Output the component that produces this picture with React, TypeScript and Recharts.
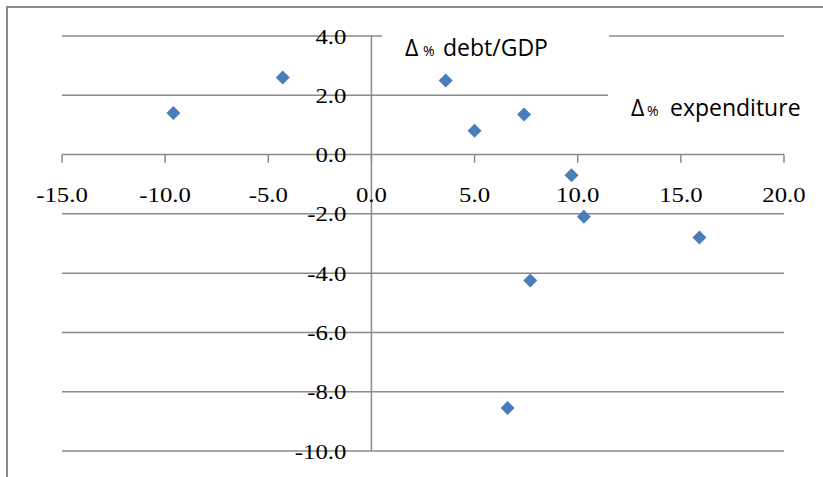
import React from 'react';
import { ScatterChart, Scatter, XAxis, YAxis, ReferenceLine } from 'recharts';

// expenditure change (x) vs debt/GDP change (y)
const expenditure = [-9.6, -4.3, 3.6, 5.0, 7.4, 9.7, 10.3, 7.7, 6.6, 15.9];
const debtGdp = [1.4, 2.6, 2.5, 0.8, 1.35, -0.7, -2.1, -4.25, -8.55, -2.8];

const xTicks = [-15, -10, -5, 0, 5, 10, 15, 20];
const yTicks = [-10, -8, -6, -4, -2, 0, 2, 4];

const points = expenditure.map((x, i) => ({ x, y: debtGdp[i] }));
const xLabelPoints = xTicks.map((x) => ({ x, y: 0 }));
const yLabelPoints = yTicks.map((y) => ({ x: 0, y }));

const GRID = '#8a8a8a';
const BLUE = '#4a7ebb';
const SERIF = 'Liberation Serif, Times New Roman, serif';
const SANS = 'Open Sans, Noto Sans, sans-serif';

const Diamond = (props: any) => {
  const { cx, cy } = props;
  const r = 7;
  return (
    <polygon
      points={`${cx},${cy - r} ${cx + r},${cy} ${cx},${cy + r} ${cx - r},${cy}`}
      fill={BLUE}
    />
  );
};

// tick labels placed at the axis crossing via the scatter scales
const XLabel = (props: any) => {
  const { cx, cy, payload } = props;
  return (
    <text
      transform={`translate(${cx},${cy + 47}) scale(1.18,1)`}
      textAnchor="middle"
      style={{ fontFamily: SERIF, fontSize: 21 }}
      fill="#000"
    >
      {payload.x.toFixed(1)}
    </text>
  );
};

const YLabel = (props: any) => {
  const { cx, cy, payload } = props;
  return (
    <text
      transform={`translate(${cx - 25},${cy + 7.5}) scale(1.18,1)`}
      textAnchor="end"
      style={{ fontFamily: SERIF, fontSize: 21 }}
      fill="#000"
    >
      {payload.y.toFixed(1)}
    </text>
  );
};

export default function App() {
  return (
    <div style={{ position: 'absolute', left: 0, top: 0, width: 823, height: 477, overflow: 'hidden', background: '#fff' }}>
      {/* chart area border, cut by the picture on right/bottom */}
      <div style={{ position: 'absolute', left: 6, top: 6, width: 900, height: 600, border: `2px solid ${GRID}` }} />
      <ScatterChart width={823} height={477} margin={{ top: 36, right: 39, bottom: 26, left: 62 }}>
        <XAxis type="number" dataKey="x" domain={[-15, 20]} hide />
        <YAxis type="number" dataKey="y" domain={[-10, 4]} hide />
        {yTicks.map((v) => (
          <ReferenceLine key={'g' + v} y={v} stroke={GRID} strokeWidth={1.5} />
        ))}
        <ReferenceLine x={0} stroke={GRID} strokeWidth={1.5} />
        {xTicks.map((v) => (
          <ReferenceLine
            key={'t' + v}
            segment={[{ x: v, y: 0 }, { x: v, y: -0.28 }]}
            stroke={GRID}
            strokeWidth={1.5}
          />
        ))}
        <Scatter data={xLabelPoints} shape={<XLabel />} isAnimationActive={false} />
        <Scatter data={yLabelPoints} shape={<YLabel />} isAnimationActive={false} />
        <Scatter data={points} shape={<Diamond />} isAnimationActive={false} />
      </ScatterChart>
      <svg width={823} height={477} style={{ position: 'absolute', left: 0, top: 0, pointerEvents: 'none' }}>
        <rect x={382} y={16} width={227} height={48} fill="#fff" />
        <text x={405} y={56} style={{ fontFamily: SANS, fontSize: 23 }} fill="#000">Δ</text>
        <text x={423} y={56} style={{ fontFamily: SANS, fontSize: 14 }} fill="#000">%</text>
        <text x={443} y={56} style={{ fontFamily: SANS, fontSize: 23 }} fill="#000">debt/GDP</text>
        <rect x={608} y={84} width={215} height={50} fill="#fff" />
        <text x={631} y={116} style={{ fontFamily: SANS, fontSize: 23 }} fill="#000">Δ</text>
        <text x={647} y={116} style={{ fontFamily: SANS, fontSize: 14 }} fill="#000">%</text>
        <text x={670} y={116} style={{ fontFamily: SANS, fontSize: 23 }} fill="#000">expenditure</text>
      </svg>
    </div>
  );
}
